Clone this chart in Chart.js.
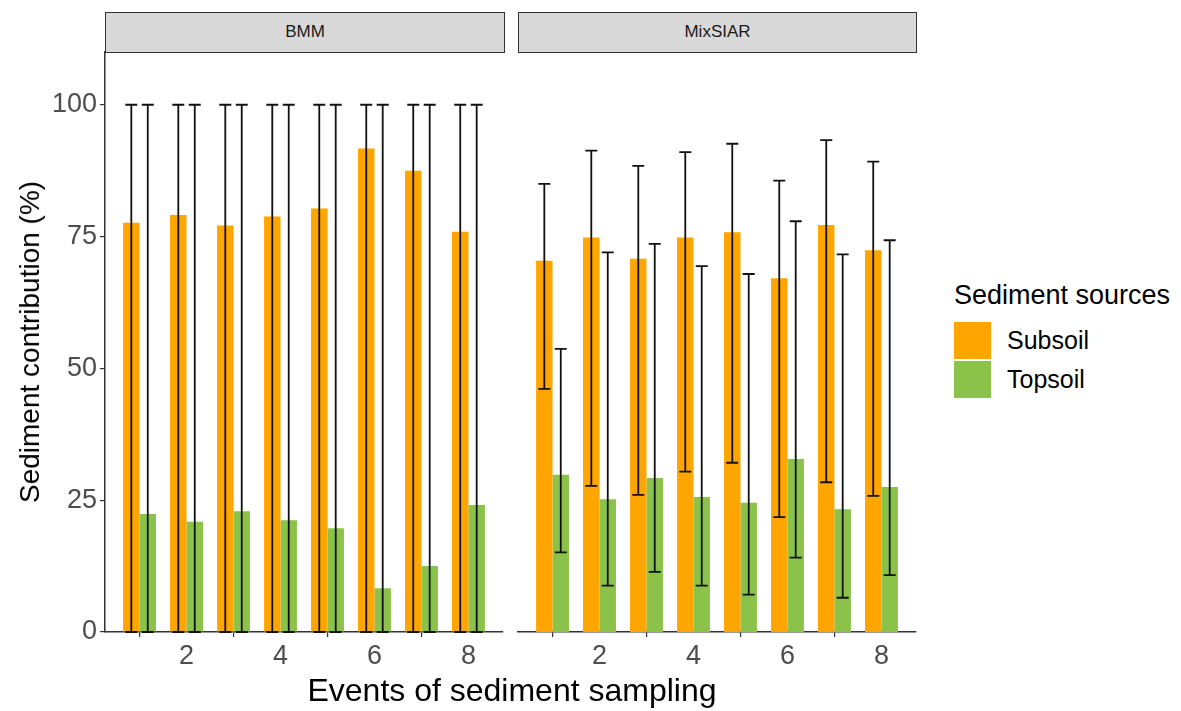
<!DOCTYPE html>
<html>
<head>
<meta charset="utf-8">
<script src="https://cdn.jsdelivr.net/npm/chart.js@4.4.0/dist/chart.umd.min.js"></script>
<style>
body { margin: 0; background: #fff; font-family: 'Liberation Sans', Arial, sans-serif; }
#wrap { position: relative; width: 1181px; height: 711px; overflow: hidden; }
canvas { position: absolute; top: 0; }
.strip { position: absolute; top: 12px; height: 41px; box-sizing: border-box; background: #d9d9d9;
  border: 1.3px solid #333; color: #1a1a1a; font-size: 17px; text-align: center; line-height: 38px; }
.ytitle { position: absolute; left: 30px; top: 342px; transform: translate(-50%, -50%) rotate(-90deg);
  white-space: nowrap; font-size: 28px; color: #000; }
.xtitle { position: absolute; left: 512px; top: 690px; transform: translate(-50%, -50%);
  white-space: nowrap; font-size: 32px; color: #000; }
.legend { position: absolute; left: 954px; top: 280px; }
.legend .title { font-size: 27px; color: #000; margin-bottom: 10px; white-space: nowrap; }
.legend .item { height: 39px; display: flex; align-items: center; font-size: 25px; color: #000; }
.legend .key { width: 37px; height: 37px; margin-right: 16px; }
</style>
</head>
<body>
<div id="wrap">
  <canvas id="bmmChart" width="510" height="711" style="left:0"></canvas>
  <canvas id="mixChart" width="430" height="711" style="left:510px"></canvas>
  <div class="strip" style="left:105px; width:400px">BMM</div>
  <div class="strip" style="left:518px; width:399px">MixSIAR</div>
  <div class="ytitle">Sediment contribution (%)</div>
  <div class="xtitle">Events of sediment sampling</div>
  <div class="legend">
    <div class="title">Sediment sources</div>
    <div class="item"><div class="key" style="background:#FFA500"></div>Subsoil</div>
    <div class="item"><div class="key" style="background:#8BC34A"></div>Topsoil</div>
  </div>
</div>
<script>
// 데이터
const events = [1, 2, 3, 4, 5, 6, 7, 8];
const xTicks = [2, 4, 6, 8];
const yTicks = [0, 25, 50, 75, 100];

const bmmSubsoil = [77.6, 79.1, 77.1, 78.8, 80.3, 91.7, 87.5, 75.9];
const bmmSubLow = [0, 0, 0, 0, 0, 0, 0, 0];
const bmmSubHigh = [100, 100, 100, 100, 100, 100, 100, 100];
const bmmTopsoil = [22.4, 20.9, 22.9, 21.2, 19.7, 8.3, 12.5, 24.1];
const bmmTopLow = [0, 0, 0, 0, 0, 0, 0, 0];
const bmmTopHigh = [100, 100, 100, 100, 100, 100, 100, 100];

const mixSubsoil = [70.4, 74.8, 70.8, 74.8, 75.8, 67.1, 77.2, 72.4];
const mixSubLow = [46.1, 27.7, 26.0, 30.4, 32.1, 21.8, 28.4, 25.8];
const mixSubHigh = [85.0, 91.3, 88.4, 91.0, 92.6, 85.6, 93.3, 89.2];
const mixTopsoil = [29.8, 25.2, 29.2, 25.6, 24.5, 32.8, 23.3, 27.5];
const mixTopLow = [15.1, 8.8, 11.4, 8.8, 7.1, 14.1, 6.5, 10.8];
const mixTopHigh = [53.7, 72.0, 73.6, 69.4, 67.9, 77.9, 71.6, 74.3];

const subsoilColor = '#FFA500';
const topsoilColor = '#8BC34A';

// 에러바 플러그인
const errorBars = {
    id: 'errorBars',
    afterDatasetsDraw(chart) {
        const ctx = chart.ctx;
        const y = chart.scales.y;
        ctx.save();
        ctx.strokeStyle = '#111';
        ctx.lineWidth = 1.8;
        chart.data.datasets.forEach(function(ds, i) {
            const meta = chart.getDatasetMeta(i);
            meta.data.forEach(function(bar, j) {
                const yLo = y.getPixelForValue(ds.errLow[j]);
                const yHi = y.getPixelForValue(ds.errHigh[j]);
                const half = 6;
                ctx.beginPath();
                ctx.moveTo(bar.x, yLo);
                ctx.lineTo(bar.x, yHi);
                ctx.moveTo(bar.x - half, yHi);
                ctx.lineTo(bar.x + half, yHi);
                ctx.moveTo(bar.x - half, yLo);
                ctx.lineTo(bar.x + half, yLo);
                ctx.stroke();
            });
        });
        ctx.restore();
    }
};

function toPoints(values) {
    return events.map(function(e, i) { return { x: e, y: values[i] }; });
}

function makePanel(id, sub, subLow, subHigh, top, topLow, topHigh, showY, padding) {
    const ctx = document.getElementById(id).getContext('2d');
    return new Chart(ctx, {
        type: 'bar',
        data: {
            datasets: [{
                label: 'Subsoil',
                data: toPoints(sub),
                errLow: subLow,
                errHigh: subHigh,
                backgroundColor: subsoilColor
            }, {
                label: 'Topsoil',
                data: toPoints(top),
                errLow: topLow,
                errHigh: topHigh,
                backgroundColor: topsoilColor
            }]
        },
        options: {
            responsive: false,
            animation: false,
            devicePixelRatio: 1,
            layout: { padding: padding },
            datasets: {
                bar: { categoryPercentage: 0.7, barPercentage: 1.0 }
            },
            scales: {
                x: {
                    type: 'linear',
                    offset: false,
                    min: 0.265,
                    max: 8.735,
                    afterBuildTicks: function(s) { s.ticks = xTicks.map(function(v) { return { value: v }; }); },
                    afterFit: function(s) { s.height = 79; },
                    grid: { display: true, drawOnChartArea: false, drawTicks: true, tickLength: 5, color: '#333', lineWidth: 1.2 },
                    border: { display: true, color: '#333', width: 1.5 },
                    ticks: { color: '#4d4d4d', font: { family: "'Liberation Sans', Arial", size: 27 }, padding: 3, maxRotation: 0 }
                },
                y: {
                    display: showY,
                    min: 0,
                    max: 110,
                    afterBuildTicks: function(s) { s.ticks = yTicks.map(function(v) { return { value: v }; }); },
                    afterFit: function(s) { s.width = showY ? 105 : 0; },
                    grid: { display: true, drawOnChartArea: false, drawTicks: true, tickLength: 5, color: '#333', lineWidth: 1.2 },
                    border: { display: true, color: '#333', width: 1.5 },
                    ticks: { color: '#4d4d4d', font: { family: "'Liberation Sans', Arial", size: 27 }, padding: 3 }
                }
            },
            plugins: {
                legend: { display: false },
                tooltip: { enabled: false }
            }
        },
        plugins: [errorBars]
    });
}

makePanel('bmmChart', bmmSubsoil, bmmSubLow, bmmSubHigh, bmmTopsoil, bmmTopLow, bmmTopHigh, true,
    { top: 52, right: 7, left: 0, bottom: 0 });
makePanel('mixChart', mixSubsoil, mixSubLow, mixSubHigh, mixTopsoil, mixTopLow, mixTopHigh, false,
    { top: 52, right: 24, left: 8, bottom: 0 });
</script>
</body>
</html>
